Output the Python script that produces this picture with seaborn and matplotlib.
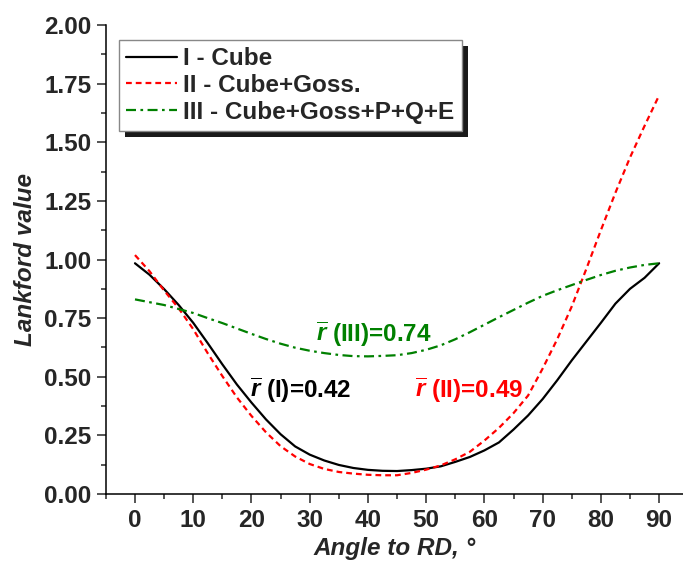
import numpy as np
import pandas as pd
import matplotlib
matplotlib.use("Agg")
import matplotlib.pyplot as plt
import matplotlib.patheffects as pe
from matplotlib.ticker import MultipleLocator, FormatStrFormatter
import seaborn as sns

angles = [0, 2.5, 5, 7.5, 10, 12.5, 15, 17.5, 20, 22.5, 25, 27.5, 30, 32.5, 35, 37.5,
          40, 42.5, 45, 47.5, 50, 52.5, 55, 57.5, 60, 62.5, 65, 67.5, 70, 72.5, 75,
          77.5, 80, 82.5, 85, 87.5, 90]
r_cube = [0.984, 0.935, 0.874, 0.806, 0.73, 0.643, 0.553, 0.467, 0.39, 0.318, 0.255,
          0.203, 0.168, 0.143, 0.124, 0.111, 0.103, 0.099, 0.098, 0.102, 0.108, 0.118,
          0.137, 0.158, 0.186, 0.22, 0.275, 0.335, 0.405, 0.485, 0.57, 0.65, 0.73,
          0.812, 0.875, 0.922, 0.984]
r_cube_goss = [1.019, 0.95, 0.868, 0.792, 0.703, 0.60, 0.503, 0.412, 0.333, 0.263,
               0.204, 0.16, 0.128, 0.107, 0.094, 0.087, 0.082, 0.08, 0.08, 0.09, 0.104,
               0.122, 0.148, 0.18, 0.228, 0.282, 0.345, 0.42, 0.535, 0.66, 0.80, 0.96,
               1.125, 1.285, 1.435, 1.57, 1.70]
r_all = [0.83, 0.818, 0.806, 0.789, 0.772, 0.75, 0.729, 0.706, 0.683, 0.661, 0.641,
         0.624, 0.611, 0.601, 0.593, 0.588, 0.587, 0.589, 0.592, 0.601, 0.615, 0.634,
         0.66, 0.69, 0.722, 0.754, 0.785, 0.816, 0.845, 0.869, 0.891, 0.913, 0.934,
         0.952, 0.966, 0.977, 0.984]

series_labels = ["I - Cube", "II - Cube+Goss.", "III - Cube+Goss+P+Q+E"]
mean_labels = [r"$\overline{r}$ (I)=0.42", r"$\overline{r}$ (II)=0.49", r"$\overline{r}$ (III)=0.74"]
mean_pos = [(28.4, 0.443), (57.4, 0.443), (41.0, 0.68)]

sns.set_theme(style="ticks")
plt.rcParams["font.family"] = ["Liberation Sans", "DejaVu Sans"]
plt.rcParams["font.weight"] = "bold"
plt.rcParams["mathtext.fontset"] = "custom"
plt.rcParams["mathtext.it"] = "Liberation Sans:italic:bold"
plt.rcParams["mathtext.rm"] = "Liberation Sans:bold"
plt.rcParams["mathtext.bf"] = "Liberation Sans:bold"

fig = plt.figure(figsize=(6.83, 5.70), dpi=100)
ax = fig.add_axes([0.155, 0.1333, 0.845, 0.8228])

colors = ["black", "#FF0000", "#008000"]
styles = ["-", (0, (2.6, 1.8)), (0, (4.5, 2, 1.2, 2))]
for vals, lab, c, ls in zip([r_cube, r_cube_goss, r_all], series_labels, colors, styles):
    df = pd.DataFrame({"angle": angles, "r": vals})
    sns.lineplot(data=df, x="angle", y="r", ax=ax, color=c, lw=1.6, label=lab)
    ax.lines[-1].set_linestyle(ls)

for txt, (x, y), c in zip(mean_labels, mean_pos, colors):
    ax.text(x, y, txt, color=c, fontsize=17.5, fontweight="bold", ha="center", va="center")

ax.set_xlim(-5, 94.1)
ax.set_ylim(0, 2.0)
ax.xaxis.set_major_locator(MultipleLocator(10))
ax.xaxis.set_minor_locator(MultipleLocator(5))
ax.yaxis.set_major_locator(MultipleLocator(0.25))
ax.yaxis.set_minor_locator(MultipleLocator(0.125))
ax.yaxis.set_major_formatter(FormatStrFormatter("%.2f"))
ax.tick_params(which="major", direction="out", length=6.5, width=1.1, labelsize=17.5, pad=4)
ax.tick_params(which="minor", direction="out", length=3.8, width=1.1)
for lab in ax.get_xticklabels() + ax.get_yticklabels():
    lab.set_fontweight("bold")
sns.despine(ax=ax)
for s in ["left", "bottom"]:
    ax.spines[s].set_linewidth(1.1)
    ax.spines[s].set_color("black")

ax.set_xlabel("Angle to RD, °", fontsize=17.5, fontweight="bold", fontstyle="italic", labelpad=4)
ax.set_ylabel("Lankford value", fontsize=17.5, fontweight="bold", fontstyle="italic", labelpad=5)

leg = ax.legend(loc="upper left", bbox_to_anchor=(0.022, 0.968), borderaxespad=0,
                fancybox=False, frameon=True, fontsize=17.5, handlelength=2.1,
                handletextpad=0.25, labelspacing=0.15, borderpad=0.3)
leg.get_frame().set_edgecolor("#888888")
leg.get_frame().set_linewidth(1.0)
leg.get_frame().set_alpha(1)
leg.legendPatch.set_path_effects([pe.withSimplePatchShadow(offset=(4.5, -4.5), shadow_rgbFace="k", alpha=1.0)])
for t in leg.get_texts():
    t.set_fontweight("bold")
for line in leg.get_lines():
    line.set_linewidth(1.6)

fig.savefig("out.png", dpi=100)
